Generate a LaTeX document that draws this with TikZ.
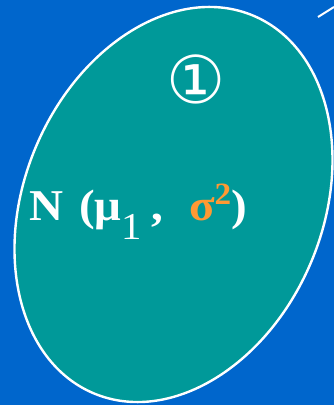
\documentclass[tikz,border=0pt]{standalone}
\usepackage{graphicx}
\usepackage{fontspec}
\setmainfont{Liberation Serif}
\newfontfamily\symfont{DejaVu Sans}
\usetikzlibrary{shapes.geometric}
\definecolor{bgblue}{RGB}{0,102,204}
\definecolor{tealfill}{RGB}{0,153,153}
\definecolor{orangetxt}{RGB}{255,153,51}
\tikzset{
  blob/.style={ellipse, draw=white, line width=2.4pt, fill=tealfill, inner sep=0pt},
  label/.style={inner sep=0pt, text=white}
}
\begin{document}
\begin{tikzpicture}[x=1pt,y=1pt]
\fill[bgblue] (0,0) rectangle (334,405);
\useasboundingbox (0,0) rectangle (334,405);
\node[blob, minimum width=298.4pt, minimum height=410pt, rotate=-23] (e) at (173.5,200.5) {};
\node[label, font=\symfont\fontsize{66}{66}\selectfont] (one) at (196,326) {①};
\node[label, anchor=base west, font=\bfseries\fontsize{44}{44}\selectfont] (n) at (29,184)
  {\scalebox{1.07}[1]{N\hspace{4pt} (μ\raisebox{-19pt}{\mdseries\fontsize{38}{38}\selectfont 1}\hspace{9pt},\hspace{24pt}\textcolor{orangetxt}{σ\raisebox{16pt}{\fontsize{31}{31}\selectfont 2}})}};
\coordinate (l1) at (318,388);
\coordinate (l2) at (334,398);
\draw[white, line width=2pt] (l1) -- (l2);
\end{tikzpicture}
\end{document}
